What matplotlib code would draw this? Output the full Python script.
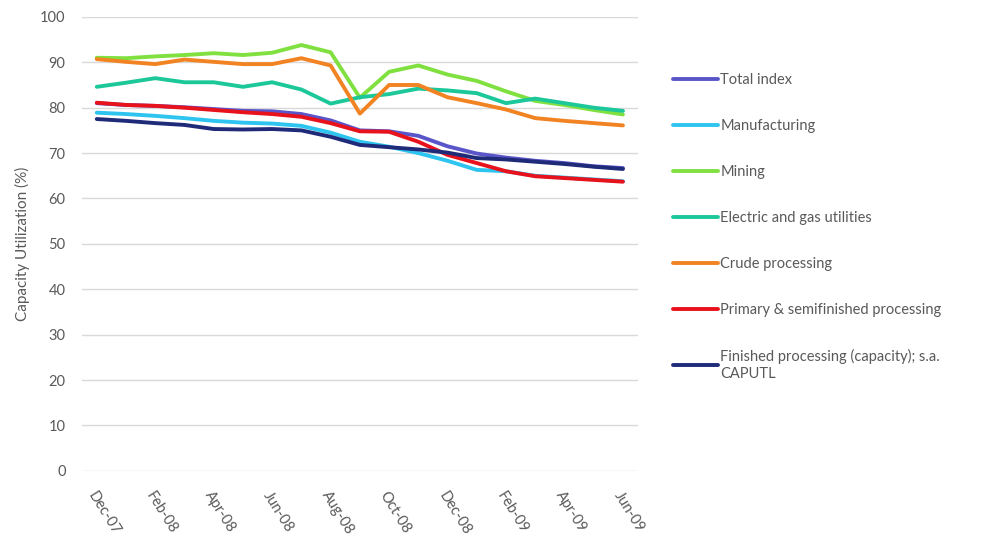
import matplotlib
matplotlib.use("Agg")
import matplotlib.pyplot as plt

months = ["Dec-07", "Jan-08", "Feb-08", "Mar-08", "Apr-08", "May-08", "Jun-08",
          "Jul-08", "Aug-08", "Sep-08", "Oct-08", "Nov-08", "Dec-08", "Jan-09",
          "Feb-09", "Mar-09", "Apr-09", "May-09", "Jun-09"]

total_index = [81.0, 80.6, 80.4, 80.1, 79.7, 79.3, 79.2, 78.6, 77.2, 75.0,
               74.8, 73.8, 71.5, 69.9, 69.0, 68.3, 67.8, 67.1, 66.7]
manufacturing = [78.9, 78.6, 78.2, 77.7, 77.1, 76.7, 76.5, 76.0, 74.5, 72.5,
                 71.4, 70.0, 68.3, 66.3, 66.0, 65.0, 64.6, 64.2, 63.8]
mining = [91.0, 90.9, 91.3, 91.6, 92.0, 91.6, 92.1, 93.8, 92.2, 82.2,
          87.9, 89.3, 87.3, 85.9, 83.6, 81.5, 80.6, 79.5, 78.5]
utilities = [84.6, 85.5, 86.5, 85.6, 85.6, 84.6, 85.6, 84.0, 80.9, 82.3,
             83.0, 84.2, 83.8, 83.2, 81.0, 82.0, 81.0, 80.0, 79.3]
crude = [90.7, 90.1, 89.6, 90.6, 90.1, 89.6, 89.6, 90.9, 89.3, 78.7,
         85.0, 85.0, 82.3, 81.0, 79.6, 77.7, 77.1, 76.6, 76.1]
primary = [81.1, 80.6, 80.4, 80.0, 79.5, 79.0, 78.6, 78.0, 76.6, 74.8,
           74.7, 72.5, 69.6, 67.8, 66.0, 64.9, 64.5, 64.1, 63.7]
finished = [77.5, 77.1, 76.6, 76.2, 75.3, 75.2, 75.3, 75.0, 73.6, 71.8,
            71.3, 70.8, 70.1, 68.9, 68.6, 68.1, 67.6, 67.0, 66.5]

series = [
    ("Total index", total_index, "#5a55c8"),
    ("Manufacturing", manufacturing, "#2ec4f0"),
    ("Mining", mining, "#80e040"),
    ("Electric and gas utilities", utilities, "#1cc89a"),
    ("Crude processing", crude, "#f28322"),
    ("Primary & semifinished processing", primary, "#e8121c"),
    ("Finished processing (capacity); s.a.\nCAPUTL", finished, "#1f2a78"),
]

yticks = list(range(0, 101, 10))
text_color = "#595959"

plt.rcParams["font.family"] = ["Lato", "DejaVu Sans"]

fig = plt.figure(figsize=(9.9, 5.45), dpi=100)
ax = fig.add_axes([0.083, 0.136, 0.561, 0.833])

x = list(range(len(months)))
handles = []
for name, vals, color in series:
    (ln,) = ax.plot(x, vals, color=color, lw=2.8, label=name,
                    solid_joinstyle="round", solid_capstyle="round")
    handles.append(ln)

ax.set_ylim(0, 100)
ax.set_xlim(-0.5, len(months) - 0.5)
ax.set_yticks(yticks)
ax.set_yticklabels([str(v) for v in yticks], fontsize=10.5, color=text_color)
ax.set_xticks(x[::2])
ax.set_xticklabels(months[::2], rotation=-58, ha="left", va="top",
                   rotation_mode="anchor", fontsize=10.5, color=text_color)
ax.tick_params(axis="both", length=0)
ax.tick_params(axis="x", pad=13)
ax.tick_params(axis="y", pad=12)
ax.yaxis.grid(True, color="#d9d9d9", lw=1)
ax.set_axisbelow(True)
for s in ax.spines.values():
    s.set_visible(False)
ax.set_ylabel("Capacity Utilization (%)", fontsize=11, color=text_color, labelpad=7)

fig.legend(handles=handles, loc="upper left", bbox_to_anchor=(0.674, 0.877),
           frameon=False, fontsize=10.5, labelcolor=text_color,
           handlelength=3.1, handletextpad=0.15, labelspacing=2.2,
           borderaxespad=0)

fig.savefig("out.png", dpi=100, facecolor="white")
